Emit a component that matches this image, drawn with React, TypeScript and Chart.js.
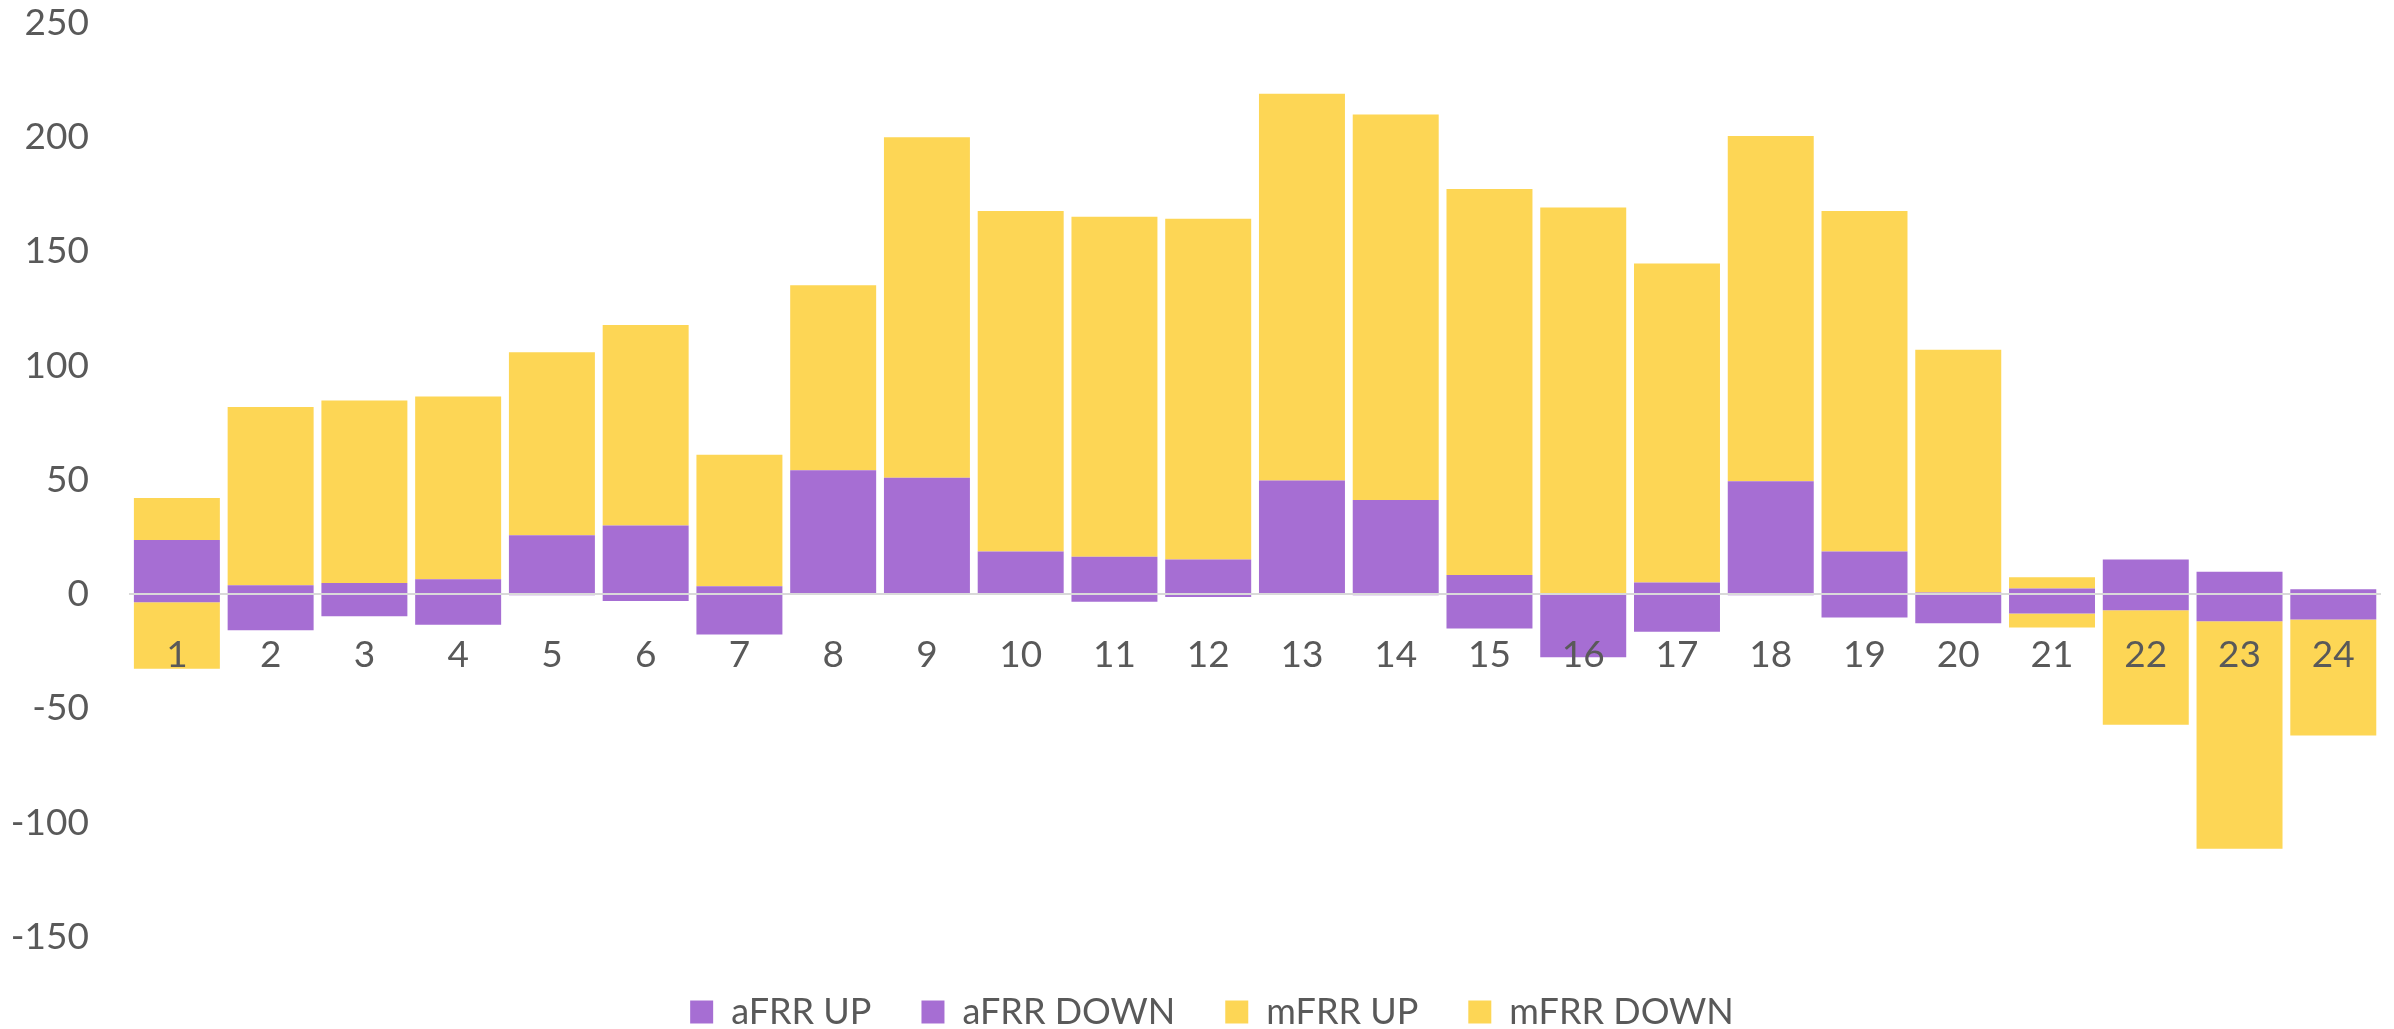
import React, { useEffect, useRef } from "react";
import { Chart, registerables } from "chart.js";

Chart.register(...registerables);

const categories = ["1","2","3","4","5","6","7","8","9","10","11","12","13","14","15","16","17","18","19","20","21","22","23","24"];

const afrrUp = [23.7, 3.9, 4.9, 6.6, 25.8, 30.1, 3.5, 54.3, 51.0, 18.7, 16.4, 15.2, 49.8, 41.2, 8.4, 0, 5.1, 49.4, 18.7, 0.8, 2.5, 15.2, 9.9, 2.2];
const afrrDown = [-3.5, -15.8, -9.6, -13.3, -0.4, -2.9, -17.6, 0, 0, 0, -3.3, -1.2, 0, -0.4, -15.0, -27.6, -16.4, -0.4, -10.2, -12.7, -8.4, -7.0, -11.8, -11.1];
const mfrrUp = [18.4, 78.1, 79.9, 79.9, 80.1, 87.7, 57.6, 80.9, 149.0, 149.0, 148.8, 149.1, 169.2, 168.8, 168.9, 169.3, 139.6, 151.2, 149.0, 106.2, 4.9, 0, 0, 0];
const mfrrDown = [-29.1, 0, 0, 0, 0, 0, 0, 0, 0, 0, 0, 0, 0, 0, 0, 0, 0, 0, 0, 0, -6.2, -50.1, -99.6, -50.7];

const seriesNames = ["aFRR UP", "aFRR DOWN", "mFRR UP", "mFRR DOWN"];
const yMin = -150;
const yMax = 250;
const yStep = 50;

const PURPLE = "#A66ED3";
const YELLOW = "#FDD655";
const TEXT = "#595959";
const FONT = "Lato, 'Open Sans', sans-serif";

const legendShift = {
  id: "legendShift",
  afterLayout(chart: any) {
    const l = chart.legend;
    if (l) {
      l.top += 7;
      l.bottom += 7;
      l.left += 21;
      l.right += 21;
    }
  },
};

export default function App() {
  const ref = useRef<HTMLCanvasElement | null>(null);

  useEffect(() => {
    if (!ref.current) return;
    const chart = new Chart(ref.current, {
      type: "bar",
      data: {
        labels: categories,
        datasets: [
          { label: seriesNames[0], data: afrrUp, backgroundColor: PURPLE, stack: "s" },
          { label: seriesNames[1], data: afrrDown, backgroundColor: PURPLE, stack: "s" },
          { label: seriesNames[2], data: mfrrUp, backgroundColor: YELLOW, stack: "s" },
          { label: seriesNames[3], data: mfrrDown, backgroundColor: YELLOW, stack: "s" },
        ],
      },
      options: {
        animation: false,
        responsive: true,
        maintainAspectRatio: false,
        datasets: {
          bar: { categoryPercentage: 1, barPercentage: 0.917, borderWidth: 0 },
        },
        layout: { padding: { left: 0, right: 12, top: 23, bottom: -4 } },
        plugins: {
          tooltip: { enabled: false },
          legend: {
            position: "bottom",
            labels: {
              boxWidth: 23,
              boxHeight: 23,
              padding: 50,
              color: TEXT,
              font: { family: FONT, size: 36 },
            },
          },
        },
        scales: {
          x: {
            stacked: true,
            position: { y: 0 } as any,
            grid: { display: false, drawTicks: false },
            border: { display: true, color: "#D9D9D9", width: 2, z: 1 },
            ticks: {
              color: TEXT,
              font: { family: FONT, size: 37 },
              padding: 39,
              maxRotation: 0,
              autoSkip: false,
              z: 1,
            },
          },
          y: {
            stacked: true,
            min: yMin,
            max: yMax,
            grid: { display: false, drawTicks: true, tickLength: 41 },
            border: { display: false },
            ticks: {
              stepSize: yStep,
              color: TEXT,
              font: { family: FONT, size: 37 },
              padding: 0,
            },
            afterFit: (scale: any) => {
              scale.width = 130;
            },
          },
        },
      },
      plugins: [legendShift],
    });
    return () => chart.destroy();
  }, []);

  return (
    <div style={{ position: "absolute", left: 0, top: 0, width: 2394, height: 1029, background: "#fff" }}>
      <canvas ref={ref} />
    </div>
  );
}
